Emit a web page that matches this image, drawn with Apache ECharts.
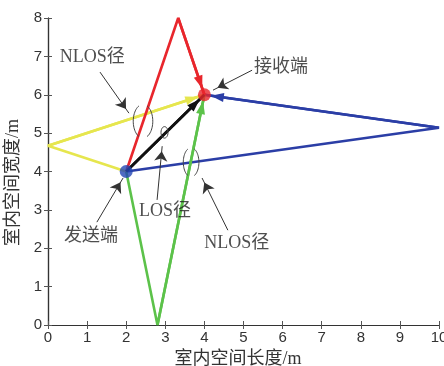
<!DOCTYPE html>
<html><head><meta charset="utf-8">
<script src="https://cdn.jsdelivr.net/npm/echarts@6/dist/echarts.min.js"></script>
<style>html,body{margin:0;padding:0;background:#fff}#c{width:444px;height:366px}</style>
</head><body><div id="c"></div>
<script>
// Transmitter / receiver positions (m)
const txPos = [2, 4];
const rxPos = [4, 6];
// Propagation paths: reflection points (null = direct LOS)
const pathNames = ['NLOS-left', 'NLOS-right', 'NLOS-bottom', 'NLOS-top', 'LOS'];
const bounceX = [0, 10, 2.8, 3.33, null];
const bounceY = [4.67, 5.14, 0, 8, null];
const pathColors = ['#e6e64e', '#2b3ea6', '#5cc24a', '#e8262c', '#111111'];
// Annotation texts (data coords)
const noteText = ['NLOS径', '接收端', '发送端', 'LOS径', 'NLOS径'];
const noteX = [1.13, 5.96, 1.10, 2.99, 4.83];
const noteY = [6.98, 6.72, 2.32, 2.97, 2.14];
// Annotation arrows: from -> to
const arrowFromX = [1.33, 5.22, 1.25, 2.79, 4.60];
const arrowFromY = [6.59, 6.64, 2.68, 3.26, 2.47];
const arrowToX = [2.07, 4.22, 1.92, 2.92, 3.94];
const arrowToY = [5.52, 6.12, 3.83, 4.66, 3.83];
// Marker ellipses: cx, cy, rx, ry (m) and gap flag
const ellCX = [2.43, 3.66, 2.98];
const ellCY = [5.31, 4.24, 5.02];
const ellRX = [0.25, 0.2, 0.09];
const ellRY = [0.44, 0.38, 0.15];
const ellOpen = [1, 1, 0];
const xTicks = [0,1,2,3,4,5,6,7,8,9,10];
const yTicks = [0,1,2,3,4,5,6,7,8];

const chart = echarts.init(document.getElementById('c'), null, {renderer: 'canvas'});
const series = [];
pathNames.forEach((n, i) => {
  const pts = bounceX[i] === null ? [txPos, rxPos] : [txPos, [bounceX[i], bounceY[i]], rxPos];
  const last = pts[pts.length - 2];
  series.push({
    type: 'line', name: n, z: 3 + i, clip: false, symbol: 'none', silent: true,
    lineStyle: {color: pathColors[i], width: 2.6},
    data: pts,
    markLine: {
      silent: true, animation: false,
      symbol: ['none', 'triangle'], symbolSize: [9, 13],
      symbolOffset: [[0, 0], [0, 13]],
      label: {show: false}, emphasis: {disabled: true},
      lineStyle: {color: pathColors[i], width: 2.6, type: 'solid'},
      data: [[{coord: last}, {coord: rxPos}]]
    }
  });
});
// annotation arrows
series.push({
  type: 'line', z: 20, data: [], silent: true,
  markLine: {
    silent: true, animation: false,
    symbol: ['none', 'arrow'], symbolSize: 10,
    symbolOffset: [[0, 0], [0, 5]],
    label: {show: false}, emphasis: {disabled: true},
    lineStyle: {color: '#333', width: 1, type: 'solid'},
    data: arrowFromX.map((x, i) => [{coord: [x, arrowFromY[i]]}, {coord: [arrowToX[i], arrowToY[i]]}])
  }
});
// ellipses
series.push({
  type: 'custom', coordinateSystem: 'cartesian2d', z: 21, clip: false,
  data: ellCX.map((x, i) => [x, ellCY[i], ellRX[i], ellRY[i], ellOpen[i]]),
  renderItem: function (params, api) {
    const c = api.coord([api.value(0), api.value(1)]);
    const sz = api.size([api.value(2), api.value(3)]);
    const rx = sz[0], ry = sz[1];
    const open = api.value(4);
    function arc(a0, a1) {
      const pts = [];
      for (let k = 0; k <= 24; k++) {
        const a = (a0 + (a1 - a0) * k / 24) * Math.PI / 180;
        pts.push([c[0] + rx * Math.cos(a), c[1] + ry * Math.sin(a)]);
      }
      return {type: 'polyline', shape: {points: pts}, style: {stroke: '#444', lineWidth: 1, fill: null}};
    }
    const ch = open ? [arc(115, 245), arc(-65, 65)] : [arc(0, 360)];
    return {type: 'group', children: ch};
  }
});
// tx / rx markers
series.push({
  type: 'scatter', z: 30, symbolSize: 13, clip: false, silent: true,
  data: [{value: txPos, itemStyle: {color: '#2346b4'}}, {value: rxPos, itemStyle: {color: '#e8262c'}}]
});
// texts
series.push({
  type: 'scatter', z: 31, symbolSize: 1, clip: false, silent: true,
  itemStyle: {color: 'rgba(0,0,0,0)'},
  label: {show: true, position: 'inside', formatter: p => p.data[2],
    color: '#222', fontSize: 18, fontFamily: '"Liberation Serif","Noto Sans CJK SC",serif'},
  data: noteX.map((x, i) => [x, noteY[i], noteText[i]])
});

const axisLine = {show: true, lineStyle: {color: '#333', width: 1.2}};
const tick = {show: true, inside: true, length: 4, lineStyle: {color: '#555'}};
chart.setOption({
  animation: false,
  backgroundColor: '#fff',
  grid: {left: 48, right: 5, top: 18, bottom: 41, containLabel: false, outerBoundsMode: 'none'},
  xAxis: [
    {type: 'value', min: 0, max: 10, interval: 1, axisLine, axisTick: tick, splitLine: {show: false},
     axisLabel: {color: '#333', fontSize: 15, margin: 5, fontFamily: '"Liberation Sans",Arial,sans-serif',
       formatter: v => xTicks.includes(v) ? String(v) : ''},
     name: '室内空间长度/m', nameLocation: 'middle', nameGap: 21,
     nameTextStyle: {color: '#333', fontSize: 18, padding: [0, 11, 0, 0],
       fontFamily: '"Liberation Serif","Noto Sans CJK SC",serif'}},
    {type: 'value', position: 'top', min: 0, max: 10, interval: 1, axisLine, axisTick: tick,
     axisLabel: {show: false}, splitLine: {show: false}}
  ],
  yAxis: [
    {type: 'value', min: 0, max: 8, interval: 1, axisLine, axisTick: tick, splitLine: {show: false},
     axisLabel: {color: '#333', fontSize: 15, margin: 6, fontFamily: '"Liberation Sans",Arial,sans-serif',
       formatter: v => yTicks.includes(v) ? String(v) : ''},
     name: '室内空间宽度/m', nameLocation: 'middle', nameGap: 14,
     nameTextStyle: {color: '#333', fontSize: 18, padding: [0, 22, 0, 0],
       fontFamily: '"Liberation Serif","Noto Sans CJK SC",serif'}},
    {type: 'value', position: 'right', min: 0, max: 8, interval: 1, axisLine, axisTick: tick,
     axisLabel: {show: false}, splitLine: {show: false}}
  ],
  series
});
</script></body></html>
